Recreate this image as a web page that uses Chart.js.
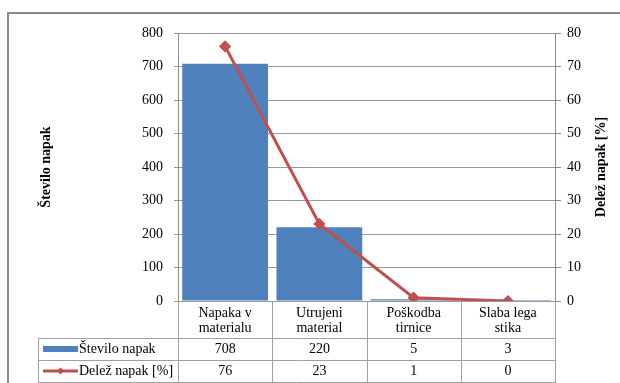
<!DOCTYPE html>
<html>
<head>
<meta charset="utf-8">
<script src="https://cdn.jsdelivr.net/npm/chart.js@4/dist/chart.umd.min.js"></script>
<style>
  html, body { margin: 0; padding: 0; background: #ffffff; }
  #wrap { width: 620px; height: 383px; position: relative; }
</style>
</head>
<body>
<div id="wrap"><canvas id="c" width="620" height="383"></canvas></div>
<script>
// Categories (two-line labels) and the two series
const categories = [['Napaka v', 'materialu'], ['Utrujeni', 'material'], ['Poškodba', 'tirnice'], ['Slaba lega', 'stika']];
const steviloNapak = [708, 220, 5, 3];
const delezNapak = [76, 23, 1, 0];
const leftTicks = [0, 100, 200, 300, 400, 500, 600, 700, 800];
const rightTicks = [0, 10, 20, 30, 40, 50, 60, 70, 80];

const seriesNames = ['Število napak', 'Delež napak [%]'];
const leftTitle = 'Število napak';
const rightTitle = 'Delež napak [%]';

const BLUE = '#4F81BD';
const RED = '#C0504D';
const SERIF = '"Liberation Serif", "Times New Roman", serif';

// Layout of the data table under the plot
const CAT_ROW_H = 37;
const ROW_H = 22;
const TABLE_LEFT = 38;

function hline(ctx, x1, x2, y) {
  ctx.beginPath(); ctx.moveTo(x1, Math.round(y) + 0.5); ctx.lineTo(x2, Math.round(y) + 0.5); ctx.stroke();
}
function vline(ctx, x, y1, y2) {
  ctx.beginPath(); ctx.moveTo(Math.round(x) + 0.5, y1); ctx.lineTo(Math.round(x) + 0.5, y2); ctx.stroke();
}

const frameAndTable = {
  id: 'frameAndTable',
  beforeDraw(chart) {
    const ctx = chart.ctx;
    ctx.save();
    ctx.fillStyle = '#ffffff';
    ctx.fillRect(0, 0, chart.width, chart.height);
    ctx.strokeStyle = '#8a8a8a';
    ctx.lineWidth = 2;
    ctx.strokeRect(8, 13, chart.width + 20, chart.height + 20);
    ctx.restore();
  },
  afterDraw(chart) {
    const { ctx, chartArea } = chart;
    const x = chart.scales.x;
    const top = chartArea.bottom;
    const r1 = top + CAT_ROW_H, r2 = r1 + ROW_H, r3 = r2 + ROW_H;
    const right = chartArea.right;
    ctx.save();
    ctx.strokeStyle = '#a0a0a0';
    ctx.lineWidth = 1;
    hline(ctx, TABLE_LEFT, right, r1);
    hline(ctx, TABLE_LEFT, right, r2);
    hline(ctx, TABLE_LEFT, right, r3);
    vline(ctx, TABLE_LEFT, r1, r3 + 1);
    for (let i = 0; i <= categories.length; i++) {
      const bx = x.getPixelForValue(i - 0.5);
      vline(ctx, bx, top, r3 + 1);
    }

    // category labels
    ctx.fillStyle = '#000000';
    ctx.font = '14px ' + SERIF;
    ctx.textAlign = 'center';
    ctx.textBaseline = 'middle';
    categories.forEach((lines, i) => {
      const cx = x.getPixelForValue(i);
      lines.forEach((t, k) => ctx.fillText(t, cx, top + 12 + k * 15));
    });

    // value rows
    const rowY = [r1 + ROW_H / 2, r2 + ROW_H / 2];
    const rows = [steviloNapak, delezNapak];
    rows.forEach((vals, j) => {
      vals.forEach((v, i) => ctx.fillText(String(v), x.getPixelForValue(i), rowY[j]));
    });

    // legend keys + series names
    ctx.fillStyle = BLUE;
    ctx.fillRect(43, rowY[0] - 3, 35, 6);
    ctx.strokeStyle = RED;
    ctx.lineWidth = 3;
    ctx.beginPath(); ctx.moveTo(43, rowY[1]); ctx.lineTo(78, rowY[1]); ctx.stroke();
    ctx.fillStyle = RED;
    ctx.beginPath();
    ctx.moveTo(60.5, rowY[1] - 3.5); ctx.lineTo(64, rowY[1]); ctx.lineTo(60.5, rowY[1] + 3.5); ctx.lineTo(57, rowY[1]);
    ctx.closePath(); ctx.fill();
    ctx.fillStyle = '#000000';
    ctx.textAlign = 'left';
    ctx.fillText(seriesNames[0], 79, rowY[0]);
    ctx.fillText(seriesNames[1], 79, rowY[1]);

    // axis titles, both reading bottom to top
    const cy = (chartArea.top + chartArea.bottom) / 2;
    ctx.font = 'bold 14px ' + SERIF;
    ctx.textAlign = 'center';
    ctx.save();
    ctx.translate(46, cy);
    ctx.rotate(-Math.PI / 2);
    ctx.fillText(leftTitle, 0, 0);
    ctx.restore();
    ctx.save();
    ctx.translate(601, cy);
    ctx.rotate(-Math.PI / 2);
    ctx.fillText(rightTitle, 0, 0);
    ctx.restore();
    ctx.restore();
  }
};

new Chart(document.getElementById('c'), {
  data: {
    labels: categories,
    datasets: [
      {
        type: 'line',
        label: seriesNames[1],
        data: delezNapak,
        yAxisID: 'y2',
        borderColor: RED,
        backgroundColor: RED,
        borderWidth: 3,
        pointStyle: 'rectRot',
        pointRadius: 4,
        pointHoverRadius: 4,
        tension: 0,
        order: 0
      },
      {
        type: 'bar',
        label: seriesNames[0],
        data: steviloNapak,
        yAxisID: 'y',
        backgroundColor: BLUE,
        borderWidth: 0,
        categoryPercentage: 1.0,
        barPercentage: 0.91,
        order: 1
      }
    ]
  },
  options: {
    responsive: false,
    animation: false,
    devicePixelRatio: 1,
    layout: { padding: { left: 0, right: 0, top: 33, bottom: 82 } },
    plugins: { legend: { display: false }, tooltip: { enabled: false } },
    scales: {
      x: { type: 'category', display: false, offset: true },
      y: {
        position: 'left',
        min: 0, max: 800,
        afterBuildTicks(s) { s.ticks = leftTicks.map(v => ({ value: v })); },
        afterFit(s) { s.width = 178; },
        ticks: { color: '#000000', font: { family: SERIF, size: 14 }, padding: 11 },
        grid: { color: '#999999', lineWidth: 1, tickLength: 4, drawTicks: true },
        border: { display: true, color: '#8c8c8c' }
      },
      y2: {
        position: 'right',
        min: 0, max: 80,
        afterBuildTicks(s) { s.ticks = rightTicks.map(v => ({ value: v })); },
        afterFit(s) { s.width = 65; },
        ticks: { color: '#000000', font: { family: SERIF, size: 14 }, padding: 6 },
        grid: { drawOnChartArea: false, color: '#8c8c8c', tickLength: 6 },
        border: { display: true, color: '#8c8c8c' }
      }
    }
  },
  plugins: [frameAndTable]
});
</script>
</body>
</html>
